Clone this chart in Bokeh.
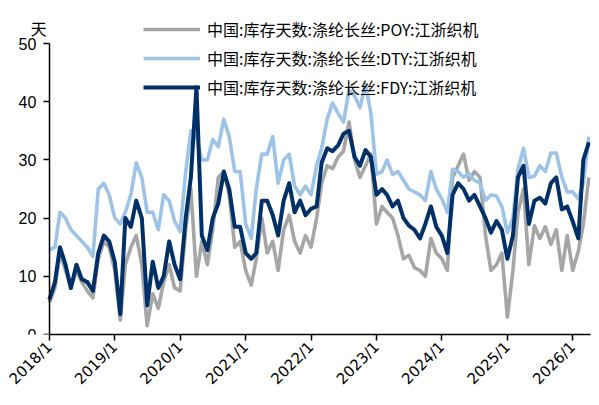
import math
import pandas as pd
from bokeh.plotting import figure
from bokeh.models import Legend, LegendItem, FixedTicker, DatetimeTickFormatter, Label, Range1d
from bokeh.embed import file_html
from bokeh.resources import INLINE

start_month = "2018-01-01"
series_names = ["中国:库存天数:涤纶长丝:POY:江浙织机",
                "中国:库存天数:涤纶长丝:DTY:江浙织机",
                "中国:库存天数:涤纶长丝:FDY:江浙织机"]
year_ticks = ["2018-01-01", "2019-01-01", "2020-01-01", "2021-01-01", "2022-01-01",
              "2023-01-01", "2024-01-01", "2025-01-01", "2026-01-01"]
y_ticks = [0, 10, 20, 30, 40, 50]
unit_text = "天"

poy = [5.5, 8, 14, 11, 8, 11, 9, 7.5, 6.3, 13, 16, 15,
       11, 2.5, 12, 15, 17, 12, 1.5, 7, 4.5, 9, 12, 8,
       7.5, 18, 25, 10, 16, 12, 18, 27, 28, 24, 15, 16,
       11, 8.5, 13, 20, 14, 16, 11, 18, 20.5, 16, 14, 17,
       15, 20, 26, 29, 28.5, 30.5, 31.5, 36.5, 30, 27, 29, 31,
       19, 22, 21, 20, 17, 13, 13.6, 11.5, 11, 10, 16.5, 14,
       13, 11, 27, 29, 31, 26.5, 28, 27, 17, 11, 12, 14,
       3, 11, 21, 25, 12, 18.7, 16.5, 18.5, 15.5, 18, 11, 17,
       11, 14.3, 19, 27]

dty = [14.5, 15, 21, 20, 18, 17, 16, 15, 13.4, 25, 26, 24,
       20, 19, 21, 24, 29.5, 27, 21, 21, 18, 24, 23, 19.5,
       17.7, 28, 35, 34, 30, 30, 33.5, 32.3, 37, 34, 28, 28,
       19, 16.5, 25, 31, 31, 34, 26, 30, 31, 25.5, 24, 25.5,
       24, 29, 32, 37, 39.8, 38, 36.5, 42, 41, 39, 43, 38,
       27.5, 28, 30, 27.5, 28, 26.5, 25, 24.5, 24, 23, 28, 25,
       23.3, 21, 28.4, 28, 27, 27.7, 26.5, 26, 23, 24, 23.8, 22,
       17.5, 20, 28.4, 32, 27, 27.2, 29, 28, 31.2, 31.2, 27, 24.5,
       24.5, 23.3, 26, 34]

fdy = [6, 9, 15, 12, 8, 12, 9.5, 9, 7.5, 14, 17, 16,
       12.5, 3.5, 20, 18.5, 23, 20, 5, 12.5, 8, 10, 16, 12,
       9.5, 20, 27, 42.5, 17, 14.5, 20, 22.5, 28, 25, 18.5, 18.5,
       14, 13, 14, 23, 23, 20.5, 17, 23, 26, 21, 23, 20.5,
       21.6, 22, 29.5, 32, 31.5, 32.5, 34.5, 35, 30.5, 29, 31.7, 30.5,
       24, 25, 24, 22, 23, 20, 18.7, 18, 16.5, 19, 22, 18.5,
       17, 14, 24, 26, 25, 23, 24, 22, 20, 17.5, 19.5, 18,
       13, 17, 27, 29, 19, 23, 23.5, 22.5, 26, 27, 21.5, 22,
       19.4, 16.5, 30, 33]

colors = ["#A6A6A6", "#9DC3E6", "#003068"]

dates = pd.date_range(start_month, periods=len(poy), freq="MS")


def ms(s):
    return pd.Timestamp(s).value / 1e6


x_start, x_end = ms("2017-05-01"), ms("2026-04-10")
axis_start = ms(start_month)

p = figure(width=591, height=397, x_axis_type="datetime", output_backend="svg",
           toolbar_location=None, min_border_left=5, min_border_right=1,
           min_border_top=12, min_border_bottom=63)
p.x_range = Range1d(x_start, x_end)
p.y_range = Range1d(0, 55.33)
p.outline_line_color = None
p.grid.visible = False
p.background_fill_color = "white"

renderers = []
for vals, c, w in zip([poy, dty, fdy], colors, [3.6, 3.6, 4]):
    r = p.line(dates, vals, line_color=c, line_width=w, line_join="round")
    renderers.append(r)

p.xaxis.ticker = FixedTicker(ticks=[ms(t) for t in year_ticks])
p.xaxis.formatter = DatetimeTickFormatter(years="%Y/1", months="%Y/1", days="%Y/1",
                                          hours="%Y/1", minutes="%Y/1", seconds="%Y/1",
                                          milliseconds="%Y/1", microseconds="%Y/1")
p.xaxis.major_label_orientation = math.pi / 4
p.xaxis.bounds = (axis_start, x_end)
p.yaxis.ticker = FixedTicker(ticks=y_ticks)
p.yaxis.bounds = (0, 50)
p.yaxis.fixed_location = axis_start

for ax in [p.xaxis, p.yaxis]:
    ax.axis_line_color = "black"
    ax.axis_line_width = 1.5
    ax.major_tick_line_color = "black"
    ax.major_tick_line_width = 1.5
    ax.major_tick_in = 0
    ax.major_tick_out = 6
    ax.minor_tick_line_color = None
    ax.major_label_text_color = "black"
p.yaxis.major_label_text_font = "Liberation Sans"
p.yaxis.major_label_text_font_size = "16px"
p.xaxis.major_label_text_font = "DejaVu Sans"
p.xaxis.major_label_text_font_size = "15px"
p.yaxis.major_label_standoff = 7
p.xaxis.major_label_standoff = 4

items = [LegendItem(label=n, renderers=[r]) for n, r in zip(series_names, renderers)]
legend = Legend(items=items, location=(138, 235), padding=0, margin=0,
                glyph_width=57, glyph_height=20, label_height=20, spacing=5,
                label_standoff=7, border_line_color=None, background_fill_alpha=0,
                label_text_font="Noto Sans CJK SC", label_text_font_size="16px",
                label_text_color="black")
p.add_layout(legend, "center")

unit = Label(x=ms("2017-11-03"), y=52.66, text=unit_text,
             text_align="center", text_baseline="middle", text_font="Noto Sans CJK SC",
             text_font_size="16px", text_color="black")
p.add_layout(unit)

open("out.html", "w").write(file_html(p, INLINE))
